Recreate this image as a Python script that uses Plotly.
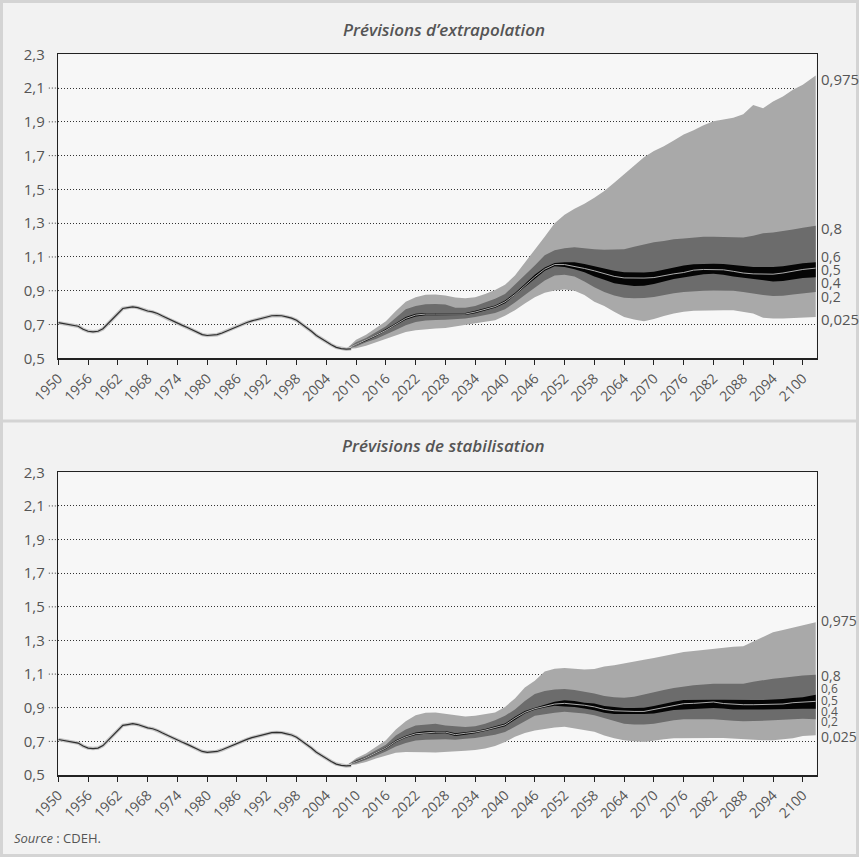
import plotly.graph_objects as go

# ---------------- data ----------------
hist_years = list(range(1950, 2010))
hist_values = [
    0.711, 0.705, 0.702, 0.697, 0.690, 0.672, 0.660, 0.657, 0.660, 0.675,
    0.705, 0.735, 0.770, 0.795, 0.800, 0.805, 0.800, 0.788, 0.780, 0.775,
    0.765, 0.750, 0.735, 0.720, 0.708, 0.695, 0.682, 0.668, 0.655, 0.640,
    0.635, 0.638, 0.640, 0.650, 0.663, 0.675, 0.688, 0.700, 0.712, 0.722,
    0.730, 0.740, 0.745, 0.752, 0.753, 0.752, 0.745, 0.738, 0.725, 0.705,
    0.682, 0.660, 0.635, 0.615, 0.598, 0.580, 0.565, 0.557, 0.554, 0.556,
]

fc_years = list(range(2008, 2101, 2)) + [2102.6]

# Prévisions d'extrapolation (quantiles)
ext_q025 = [0.555, 0.56, 0.575, 0.595, 0.615, 0.636, 0.656, 0.666, 0.672, 0.677,
            0.68, 0.69, 0.696, 0.706, 0.716, 0.726, 0.752, 0.785, 0.825, 0.862,
            0.888, 0.902, 0.908, 0.9, 0.875, 0.835, 0.81, 0.775, 0.745, 0.73,
            0.72, 0.732, 0.75, 0.765, 0.775, 0.782, 0.784, 0.784, 0.784, 0.784,
            0.775, 0.765, 0.74, 0.735, 0.735, 0.737, 0.74, 0.745]
ext_q20 = [0.555, 0.57, 0.595, 0.615, 0.64, 0.668, 0.696, 0.715, 0.724, 0.727,
           0.728, 0.73, 0.735, 0.745, 0.755, 0.768, 0.79, 0.83, 0.875, 0.92,
           0.96, 0.99, 0.995, 0.985, 0.955, 0.92, 0.892, 0.872, 0.858, 0.855,
           0.857, 0.863, 0.872, 0.885, 0.892, 0.898, 0.9, 0.902, 0.902, 0.9,
           0.892, 0.885, 0.875, 0.869, 0.87, 0.878, 0.886, 0.892]
ext_q40 = [0.555, 0.578, 0.603, 0.63, 0.66, 0.695, 0.728, 0.748, 0.755, 0.755,
           0.754, 0.755, 0.757, 0.767, 0.783, 0.80, 0.826, 0.87, 0.92, 0.97,
           1.018, 1.045, 1.04, 1.028, 1.01, 0.985, 0.965, 0.945, 0.935, 0.928,
           0.93, 0.94, 0.955, 0.97, 0.98, 0.99, 0.998, 1.0, 0.995, 0.985,
           0.975, 0.97, 0.962, 0.955, 0.958, 0.965, 0.975, 0.98]
ext_q50 = [0.555, 0.582, 0.607, 0.636, 0.666, 0.702, 0.736, 0.756, 0.762, 0.762,
           0.761, 0.760, 0.762, 0.774, 0.789, 0.806, 0.834, 0.878, 0.93, 0.982,
           1.028, 1.055, 1.055, 1.045, 1.032, 1.018, 1.0, 0.985, 0.976, 0.975,
           0.975, 0.978, 0.99, 1.0, 1.008, 1.022, 1.026, 1.026, 1.024, 1.015,
           1.005, 1.0, 1.0, 0.998, 1.005, 1.015, 1.026, 1.034]
ext_q60 = [0.555, 0.586, 0.612, 0.64, 0.672, 0.708, 0.745, 0.764, 0.768, 0.768,
           0.768, 0.766, 0.768, 0.781, 0.795, 0.812, 0.842, 0.886, 0.94, 0.994,
           1.038, 1.065, 1.068, 1.068, 1.058, 1.045, 1.03, 1.018, 1.01, 1.008,
           1.008, 1.012, 1.025, 1.04, 1.05, 1.057, 1.06, 1.06, 1.058, 1.052,
           1.045, 1.04, 1.04, 1.04, 1.045, 1.055, 1.063, 1.069]
ext_q80 = [0.555, 0.595, 0.62, 0.655, 0.69, 0.74, 0.79, 0.81, 0.82, 0.822,
           0.818, 0.80, 0.80, 0.81, 0.83, 0.852, 0.88, 0.935, 0.995, 1.05,
           1.11, 1.14, 1.152, 1.157, 1.152, 1.145, 1.143, 1.143, 1.145, 1.16,
           1.175, 1.187, 1.195, 1.205, 1.21, 1.215, 1.22, 1.22, 1.22, 1.218,
           1.216, 1.225, 1.24, 1.245, 1.252, 1.262, 1.273, 1.285]
ext_q975 = [0.555, 0.61, 0.64, 0.68, 0.72, 0.78, 0.835, 0.862, 0.876, 0.878,
            0.872, 0.86, 0.855, 0.862, 0.88, 0.905, 0.935, 0.99, 1.065, 1.14,
            1.22, 1.30, 1.35, 1.385, 1.415, 1.45, 1.49, 1.54, 1.59, 1.64,
            1.69, 1.727, 1.755, 1.79, 1.825, 1.85, 1.88, 1.904, 1.915, 1.925,
            1.945, 2.0, 1.98, 2.02, 2.05, 2.09, 2.12, 2.175]

# Prévisions de stabilisation (quantiles)
sta_q025 = [0.556, 0.562, 0.578, 0.598, 0.617, 0.632, 0.637, 0.637, 0.635, 0.634,
            0.637, 0.64, 0.644, 0.648, 0.658, 0.672, 0.696, 0.728, 0.75, 0.765,
            0.774, 0.782, 0.787, 0.78, 0.768, 0.757, 0.735, 0.718, 0.706, 0.70,
            0.696, 0.706, 0.712, 0.718, 0.72, 0.72, 0.72, 0.72, 0.72, 0.718,
            0.716, 0.71, 0.706, 0.706, 0.71, 0.718, 0.732, 0.736]
sta_q20 = [0.556, 0.57, 0.59, 0.615, 0.64, 0.67, 0.69, 0.705, 0.71, 0.712,
           0.713, 0.71, 0.715, 0.72, 0.73, 0.74, 0.755, 0.785, 0.82, 0.852,
           0.862, 0.87, 0.876, 0.872, 0.866, 0.855, 0.84, 0.822, 0.805, 0.80,
           0.80, 0.805, 0.815, 0.826, 0.831, 0.831, 0.831, 0.831, 0.828, 0.822,
           0.819, 0.82, 0.822, 0.825, 0.828, 0.83, 0.835, 0.831]
sta_q40 = [0.556, 0.576, 0.598, 0.628, 0.655, 0.695, 0.722, 0.738, 0.745, 0.748,
           0.748, 0.732, 0.74, 0.748, 0.76, 0.775, 0.79, 0.83, 0.865, 0.888,
           0.902, 0.912, 0.908, 0.904, 0.895, 0.885, 0.87, 0.862, 0.862, 0.862,
           0.862, 0.866, 0.876, 0.886, 0.89, 0.894, 0.896, 0.898, 0.895, 0.89,
           0.89, 0.89, 0.89, 0.89, 0.892, 0.892, 0.894, 0.894]
sta_q50 = [0.556, 0.58, 0.602, 0.632, 0.66, 0.70, 0.727, 0.745, 0.752, 0.755,
           0.755, 0.74, 0.748, 0.755, 0.767, 0.782, 0.798, 0.838, 0.872, 0.894,
           0.91, 0.922, 0.926, 0.922, 0.915, 0.905, 0.89, 0.882, 0.878, 0.878,
           0.878, 0.89, 0.90, 0.912, 0.924, 0.926, 0.928, 0.934, 0.925, 0.92,
           0.918, 0.918, 0.918, 0.918, 0.922, 0.93, 0.934, 0.938]
sta_q60 = [0.556, 0.584, 0.606, 0.636, 0.665, 0.706, 0.733, 0.752, 0.76, 0.762,
           0.762, 0.748, 0.755, 0.762, 0.774, 0.79, 0.806, 0.846, 0.88, 0.90,
           0.918, 0.935, 0.944, 0.94, 0.93, 0.925, 0.91, 0.902, 0.898, 0.898,
           0.9, 0.91, 0.924, 0.936, 0.946, 0.948, 0.948, 0.948, 0.948, 0.946,
           0.946, 0.946, 0.946, 0.948, 0.952, 0.958, 0.963, 0.977]
sta_q80 = [0.556, 0.59, 0.615, 0.65, 0.68, 0.735, 0.77, 0.795, 0.802, 0.805,
           0.795, 0.788, 0.785, 0.79, 0.805, 0.825, 0.852, 0.89, 0.94, 0.982,
           1.0, 1.008, 1.012, 1.005, 0.995, 0.985, 0.97, 0.962, 0.959, 0.965,
           0.978, 0.993, 1.005, 1.018, 1.027, 1.034, 1.038, 1.043, 1.043, 1.043,
           1.043, 1.055, 1.065, 1.072, 1.078, 1.085, 1.092, 1.096]
sta_q975 = [0.556, 0.60, 0.628, 0.668, 0.706, 0.77, 0.82, 0.855, 0.87, 0.872,
            0.864, 0.855, 0.848, 0.852, 0.86, 0.872, 0.905, 0.955, 1.02, 1.06,
            1.115, 1.132, 1.136, 1.132, 1.128, 1.13, 1.145, 1.153, 1.165, 1.175,
            1.185, 1.195, 1.208, 1.22, 1.231, 1.238, 1.244, 1.254, 1.258, 1.262,
            1.266, 1.295, 1.325, 1.349, 1.362, 1.377, 1.389, 1.409]

x_tickvals = list(range(1950, 2101, 6))
y_tickvals = [0.5, 0.7, 0.9, 1.1, 1.3, 1.5, 1.7, 1.9, 2.1, 2.3]
quantile_labels = ["0,975", "0,8", "0,6", "0,5", "0,4", "0,2", "0,025"]
titles = ["Prévisions d’extrapolation", "Prévisions de stabilisation"]

# ---------------- figure ----------------
W, H = 859, 857
TXT = "#555555"
FONT = "Open Sans, Noto Sans, sans-serif"
LIGHT, MID, DARK = "#a9a9a9", "#6c6c6c", "#050505"

fig = go.Figure()


def band(xa, ya, lower, upper, color):
    fig.add_trace(go.Scatter(
        x=fc_years + fc_years[::-1], y=upper + lower[::-1],
        mode="lines", fill="toself", fillcolor=color,
        line=dict(width=0, color=color), hoverinfo="skip",
        xaxis=xa, yaxis=ya))


def panel(xa, ya, q):
    q025, q20, q40, q50, q60, q80, q975 = q
    band(xa, ya, q025, q975, LIGHT)
    band(xa, ya, q20, q80, MID)
    band(xa, ya, q40, q60, DARK)
    fig.add_trace(go.Scatter(x=fc_years, y=q50, mode="lines",
                             line=dict(color="#c0c0c0", width=0.9),
                             hoverinfo="skip", xaxis=xa, yaxis=ya))
    fig.add_trace(go.Scatter(x=hist_years, y=hist_values, mode="lines",
                             line=dict(color="#c4c4c4", width=3.5),
                             hoverinfo="skip", xaxis=xa, yaxis=ya))
    fig.add_trace(go.Scatter(x=hist_years, y=hist_values, mode="lines",
                             line=dict(color="#2e2e2e", width=1.2),
                             hoverinfo="skip", xaxis=xa, yaxis=ya))


panel("x", "y", [ext_q025, ext_q20, ext_q40, ext_q50, ext_q60, ext_q80, ext_q975])
panel("x2", "y2", [sta_q025, sta_q20, sta_q40, sta_q50, sta_q60, sta_q80, sta_q975])

xdom = [58.3 / W, 816.7 / W]
ydom_top = [1 - 358.3 / H, 1 - 54.3 / H]
ydom_bot = [1 - 775.0 / H, 1 - 472.3 / H]

xcommon = dict(range=[1950, 2102.8], tickvals=x_tickvals,
               ticktext=[str(v) for v in x_tickvals],
               ticks="outside", ticklen=5, tickwidth=1, tickcolor="#222222",
               tickangle=-45, tickfont=dict(size=14, color=TXT, family=FONT),
               showline=True, linecolor="#222222", linewidth=1.5, mirror=True,
               showgrid=False, zeroline=False, fixedrange=True, automargin=False)
ycommon = dict(range=[0.5, 2.3], tickvals=y_tickvals, tickformat=".1f",
               ticks="outside", ticklen=9, tickcolor="rgba(0,0,0,0)",
               tickfont=dict(size=15, color=TXT, family=FONT),
               showline=True, linecolor="#222222", linewidth=1.5, mirror=True,
               showgrid=True, gridcolor="#333333", gridwidth=1, griddash="1px,2px",
               zeroline=False, fixedrange=True, automargin=False)

fig.update_layout(
    width=W, height=H, autosize=False, margin=dict(l=0, r=0, t=0, b=0, pad=0),
    paper_bgcolor="#f2f2f2", plot_bgcolor="#f7f7f7",
    separators=", ", showlegend=False, hovermode=False,
    font=dict(family=FONT, color=TXT),
    xaxis=dict(domain=xdom, anchor="y", **xcommon),
    yaxis=dict(domain=ydom_top, anchor="x", **ycommon),
    xaxis2=dict(domain=xdom, anchor="y2", **xcommon),
    yaxis2=dict(domain=ydom_bot, anchor="x2", **ycommon),
)

shapes = []
# dotted grid extensions to the left of the plot areas
for yd in ["y", "y2"]:
    xd = "x" if yd == "y" else "x2"
    for v in y_tickvals[1:-1]:
        f = (v - 0.5) / 1.8
        shapes.append(dict(type="line", xref=f"{xd} domain", yref=f"{yd} domain",
                           x0=-0.0125, x1=0, y0=f, y1=f,
                           line=dict(color="#333333", width=1, dash="1px,2px")))
# frame and separator
shapes.append(dict(type="rect", xref="paper", yref="paper",
                   x0=1.5 / W, x1=1 - 1.5 / W, y0=1.5 / H, y1=1 - 1.5 / H,
                   line=dict(color="#d4d4d4", width=3)))
shapes.append(dict(type="line", xref="paper", yref="paper",
                   x0=0, x1=1, y0=1 - 421 / H, y1=1 - 421 / H,
                   line=dict(color="#d4d4d4", width=3)))

annotations = []
# panel titles
for t, ypx in zip(titles, [29, 445]):
    annotations.append(dict(text=t, xref="paper", yref="paper",
                            x=444 / W, y=1 - ypx / H, xanchor="center", yanchor="middle",
                            showarrow=False,
                            font=dict(size=17, color=TXT, family=FONT,
                                      style="italic", weight=600)))
# quantile labels at right
label_pos_top = [2.156, 1.27, 1.10, 1.026, 0.947, 0.868, 0.735]
label_size_top = [15, 15, 14, 14, 14, 14, 15]
label_pos_bot = [1.417, 1.094, 1.015, 0.941, 0.876, 0.817, 0.728]
label_size_bot = [14, 14, 12, 12, 12, 12, 14]
for lab, yv, sz in zip(quantile_labels, label_pos_top, label_size_top):
    annotations.append(dict(text=lab, xref="paper", yref="y", x=818.5 / W, y=yv,
                            xanchor="left", yanchor="middle", showarrow=False,
                            font=dict(size=sz, color=TXT, family=FONT)))
for lab, yv, sz in zip(quantile_labels, label_pos_bot, label_size_bot):
    annotations.append(dict(text=lab, xref="paper", yref="y2", x=818.5 / W, y=yv,
                            xanchor="left", yanchor="middle", showarrow=False,
                            font=dict(size=sz, color=TXT, family=FONT)))
# source
annotations.append(dict(text="<i>Source</i> : CDEH.", xref="paper", yref="paper",
                        x=12 / W, y=1 - 838 / H, xanchor="left", yanchor="middle",
                        showarrow=False, font=dict(size=13, color=TXT, family=FONT)))

fig.update_layout(shapes=shapes, annotations=annotations)
fig.write_html(
    "out.html",
    config={"displayModeBar": False, "staticPlot": True},
    post_script="document.body.style.margin='0px';document.body.style.overflow='hidden';",
)
